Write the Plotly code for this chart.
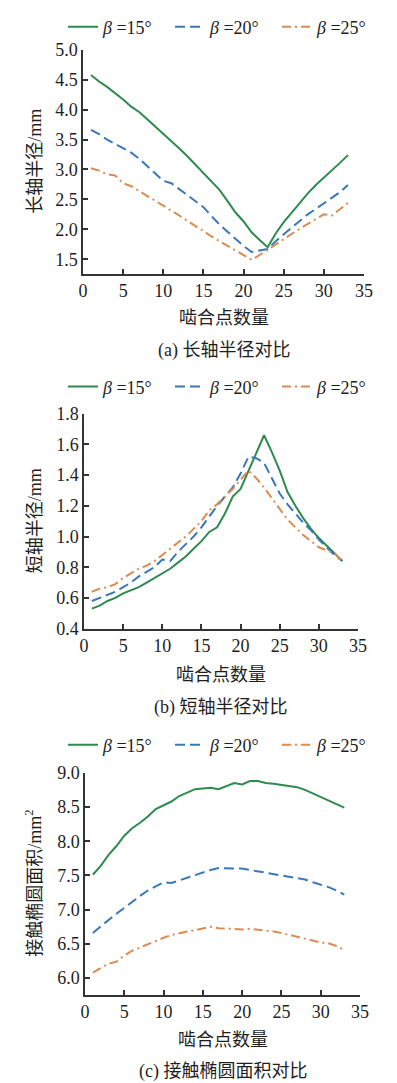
import plotly.graph_objects as go

x_points = list(range(1, 34))

# (a) major semi-axis, mm
a_b15 = [4.58, 4.47, 4.38, 4.28, 4.17, 4.05, 3.96, 3.84, 3.72, 3.60, 3.48, 3.35, 3.22, 3.08, 2.94, 2.80, 2.66,
         2.47, 2.28, 2.13, 1.95, 1.82, 1.70, 1.93, 2.12, 2.28, 2.45, 2.60, 2.74, 2.86, 2.98, 3.11, 3.24]
a_b20 = [3.66, 3.59, 3.50, 3.43, 3.36, 3.28, 3.18, 3.06, 2.94, 2.81, 2.77, 2.67, 2.56, 2.47, 2.37, 2.22, 2.08,
         1.96, 1.84, 1.72, 1.62, 1.64, 1.67, 1.80, 1.92, 2.03, 2.14, 2.25, 2.34, 2.43, 2.52, 2.62, 2.74]
a_b25 = [3.02, 2.98, 2.92, 2.90, 2.77, 2.72, 2.64, 2.56, 2.47, 2.39, 2.31, 2.23, 2.14, 2.06, 1.97, 1.88, 1.80,
         1.72, 1.64, 1.56, 1.49, 1.57, 1.66, 1.75, 1.84, 1.93, 2.01, 2.09, 2.17, 2.25, 2.23, 2.33, 2.44]

# (b) minor semi-axis, mm
b_b15 = [0.53, 0.55, 0.58, 0.60, 0.63, 0.65, 0.67, 0.70, 0.73, 0.76, 0.79, 0.83, 0.87, 0.92, 0.97, 1.03, 1.06,
         1.15, 1.26, 1.31, 1.43, 1.55, 1.66, 1.55, 1.43, 1.29, 1.20, 1.12, 1.05, 0.99, 0.94, 0.89, 0.84]
b_b20 = [0.58, 0.60, 0.62, 0.64, 0.67, 0.70, 0.74, 0.77, 0.80, 0.85, 0.84, 0.90, 0.95, 1.00, 1.06, 1.13, 1.20,
         1.26, 1.32, 1.41, 1.52, 1.51, 1.48, 1.38, 1.28, 1.21, 1.15, 1.09, 1.04, 0.98, 0.93, 0.88, 0.84]
b_b25 = [0.64, 0.66, 0.67, 0.69, 0.73, 0.76, 0.79, 0.81, 0.84, 0.88, 0.92, 0.96, 1.00, 1.05, 1.10, 1.17, 1.21,
         1.26, 1.31, 1.37, 1.43, 1.38, 1.32, 1.25, 1.18, 1.11, 1.06, 1.01, 0.97, 0.93, 0.91, 0.89, 0.84]

# (c) contact ellipse area, mm^2
c_b15 = [7.51, 7.64, 7.80, 7.93, 8.08, 8.19, 8.27, 8.36, 8.47, 8.53, 8.58, 8.66, 8.71, 8.76, 8.77, 8.78, 8.76,
         8.80, 8.85, 8.83, 8.88, 8.88, 8.85, 8.84, 8.82, 8.81, 8.79, 8.75, 8.70, 8.65, 8.60, 8.55, 8.49]
c_b20 = [6.66, 6.76, 6.85, 6.94, 7.03, 7.12, 7.20, 7.28, 7.34, 7.40, 7.39, 7.43, 7.47, 7.51, 7.55, 7.58, 7.61,
         7.60, 7.60, 7.60, 7.58, 7.57, 7.55, 7.53, 7.51, 7.49, 7.47, 7.44, 7.40, 7.37, 7.33, 7.28, 7.22]
c_b25 = [6.08, 6.15, 6.21, 6.24, 6.33, 6.40, 6.45, 6.50, 6.55, 6.59, 6.63, 6.66, 6.68, 6.70, 6.73, 6.75, 6.73,
         6.72, 6.71, 6.71, 6.72, 6.71, 6.70, 6.68, 6.66, 6.63, 6.60, 6.58, 6.55, 6.52, 6.51, 6.47, 6.41]

series_names = ["<i>β</i> =15°", "<i>β</i> =20°", "<i>β</i> =25°"]
x_title = "啮合点数量"
y_titles = ["长轴半径/mm", "短轴半径/mm", "接触椭圆面积/mm<sup>2</sup>"]
captions = ["(a) 长轴半径对比", "(b) 短轴半径对比", "(c) 接触椭圆面积对比"]
y_ranges = [[1.26, 5.0], [0.4, 1.8], [5.76, 9.0]]
y_dticks = [0.5, 0.2, 0.5]
y_tick0 = [1.5, 0.4, 6.0]

W, H = 397, 1083
colors = ["#2e8b4f", "#3b78b8", "#dc8b52"]
dashes = ["solid", "10px,5px", "9px,4px,2px,4px"]

# pixel boxes: (x0, x1, ytop, ybottom)
boxes = [(75, 356, 36, 261), (76, 350, 402, 618), (77, 352, 763, 986)]
legend_y = [13, 375, 735]
xtitle_y = [306, 665, 1032]
caption_y = [338, 697, 1063]
ytitle_x = [27, 27, 26]

SERIF = "'Liberation Serif', 'Times New Roman', 'Noto Sans CJK SC', serif"
TXT = "#1e1e1e"
fig = go.Figure()

all_data = [[a_b15, a_b20, a_b25], [b_b15, b_b20, b_b25], [c_b15, c_b20, c_b25]]
for p in range(3):
    sfx = "" if p == 0 else str(p + 1)
    for s in range(3):
        fig.add_trace(go.Scatter(
            x=x_points, y=all_data[p][s], mode="lines", name=series_names[s],
            line=dict(color=colors[s], width=2, dash=dashes[s]),
            xaxis="x" + sfx, yaxis="y" + sfx, legend="legend" + sfx,
        ))
    x0, x1, yt, yb = boxes[p]
    common = dict(showline=True, linecolor="#333333", linewidth=1.5, ticks="inside", ticklen=5,
                  tickcolor="#333333", tickwidth=1.5, showgrid=False, zeroline=False, automargin=False,
                  tickfont=dict(family=SERIF, size=18, color=TXT))
    fig.layout["xaxis" + sfx] = dict(domain=[x0 / W, x1 / W], range=[0, 35], dtick=5, tick0=0,
                                    anchor="y" + sfx, **common)
    fig.layout["yaxis" + sfx] = dict(domain=[1 - yb / H, 1 - yt / H], range=y_ranges[p], dtick=y_dticks[p],
                                    tick0=y_tick0[p], tickformat=".1f", anchor="x" + sfx, **common)
    fig.layout["legend" + sfx] = dict(orientation="h", x=55 / W, xanchor="left", y=1 - legend_y[p] / H,
                                     yanchor="middle", font=dict(family=SERIF, size=18, color=TXT),
                                     bgcolor="rgba(0,0,0,0)", itemwidth=30, tracegroupgap=0,
                                     entrywidth=62)
    # y-axis title
    fig.add_annotation(text=y_titles[p], x=ytitle_x[p] / W, xref="paper", y=1 - (yt + yb) / 2 / H,
                       yref="paper", textangle=-90, showarrow=False, xanchor="center", yanchor="middle",
                       font=dict(family=SERIF, size=18, color=TXT))
    # x-axis title
    fig.add_annotation(text=x_title, x=(x0 + x1) / 2 / W, xref="paper", y=1 - xtitle_y[p] / H, yref="paper",
                       showarrow=False, xanchor="center", yanchor="middle",
                       font=dict(family=SERIF, size=18, color=TXT))
    # caption
    fig.add_annotation(text=captions[p], x=(x0 + x1) / 2 / W, xref="paper", y=1 - caption_y[p] / H,
                       yref="paper", showarrow=False, xanchor="center", yanchor="middle",
                       font=dict(family=SERIF, size=18, color=TXT))

fig.update_layout(width=W, height=H, margin=dict(l=0, r=0, t=0, b=0),
                  paper_bgcolor="white", plot_bgcolor="white")
fig.write_html("out.html")
